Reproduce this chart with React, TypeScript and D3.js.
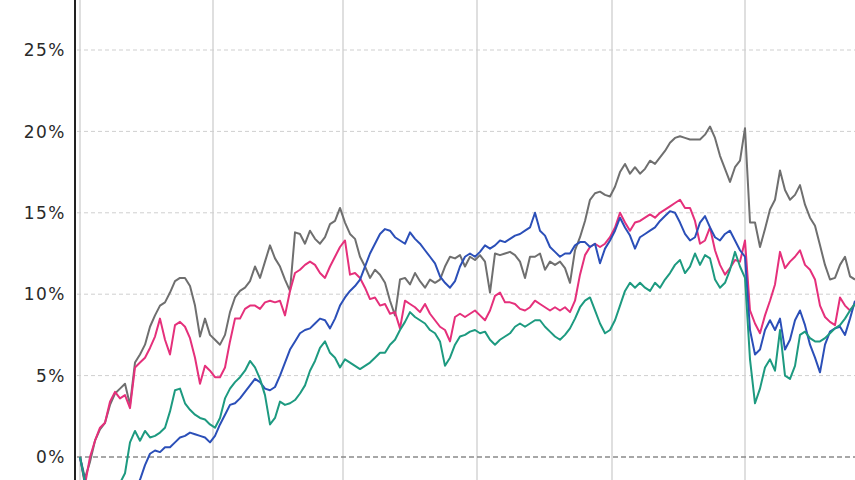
import React from "react";
import * as d3 from "d3";

const yTicks = [0, 5, 10, 15, 20, 25];
const yTickLabels = ["0%", "5%", "10%", "15%", "20%", "25%"];
const xGridIdx = [0, 26.6, 52.6, 79.4, 106.4, 133];

const grayS = [
  0.0, -1.3, -0.3, 1.0, 1.7, 2.1, 3.2, 3.9, 4.2, 4.5,
  3.2, 5.8, 6.3, 6.9, 8.0, 8.7, 9.3, 9.5, 10.1, 10.8,
  11.0, 11.0, 10.5, 9.3, 7.4, 8.5, 7.5, 7.2, 6.9, 7.5,
  8.9, 9.8, 10.2, 10.4, 10.8, 11.7, 11.0, 12.0, 13.0, 12.2,
  11.7, 10.9, 10.2, 13.8, 13.7, 13.1, 13.9, 13.4, 13.1, 13.5,
  14.3, 14.5, 15.3, 14.4, 13.7, 13.4, 12.3, 11.7, 11.0, 11.5,
  11.2, 10.7, 9.6, 8.7, 10.9, 11.0, 10.6, 11.3, 10.8, 10.4,
  10.9, 10.7, 10.9, 11.7, 12.3, 12.2, 12.4, 11.7, 12.3, 12.1,
  12.4, 12.0, 10.1, 12.5, 12.4, 12.5, 12.6, 12.4, 12.0, 11.0,
  12.3, 12.3, 12.5, 11.5, 12.0, 11.8, 12.0, 11.6, 10.7, 12.7,
  13.5, 14.5, 15.8, 16.2, 16.3, 16.1, 16.0, 16.6, 17.5, 18.0,
  17.4, 17.8, 17.4, 17.7, 18.2, 18.0, 18.4, 18.8, 19.3, 19.6,
  19.7, 19.6, 19.5, 19.5, 19.5, 19.8, 20.3, 19.6, 18.5, 17.7,
  16.9, 17.8, 18.2, 20.2, 14.4, 14.4, 12.9, 14.0, 15.2, 15.8,
  17.6, 16.4, 15.8, 16.1, 16.7, 15.5, 14.7, 14.2, 13.0, 11.8,
  10.9, 11.0, 11.8, 12.3, 11.1, 10.9,
];

const pinkS = [
  0.0, -1.7, 0.0, 1.0, 1.8, 2.1, 3.4, 4.0, 3.6, 3.8,
  3.0, 5.5, 5.8, 6.1, 6.7, 7.4, 8.5, 7.2, 6.3, 8.1,
  8.3, 8.0, 7.3, 6.1, 4.5, 5.6, 5.3, 4.9, 4.9, 5.5,
  7.1, 8.5, 8.5, 9.1, 9.3, 9.3, 9.1, 9.5, 9.6, 9.5,
  9.6, 8.7, 10.2, 11.3, 11.5, 11.8, 12.0, 11.8, 11.3, 11.0,
  11.7, 12.3, 12.9, 13.3, 11.2, 11.3, 11.0, 10.4, 9.7, 9.8,
  9.3, 9.4, 8.8, 8.9, 7.9, 9.6, 9.4, 9.2, 8.9, 9.4,
  8.8, 8.4, 8.0, 7.8, 7.1, 8.6, 8.8, 8.6, 8.8, 9.0,
  8.7, 8.4, 9.0, 9.9, 10.1, 9.5, 9.5, 9.4, 9.1, 9.0,
  9.2, 9.6, 9.4, 9.2, 9.0, 9.2, 9.0, 9.2, 8.9, 9.6,
  11.2, 12.4, 12.9, 13.1, 12.9, 13.1, 13.5, 14.1, 15.0, 14.4,
  13.9, 14.4, 14.5, 14.7, 14.9, 14.7, 15.0, 15.2, 15.4, 15.6,
  15.8, 15.3, 15.3, 14.5, 13.1, 13.3, 14.1, 12.7, 11.8, 11.2,
  11.6, 12.1, 12.0, 13.3, 9.0, 8.2, 7.6, 8.7, 9.6, 10.6,
  12.6, 11.6, 12.0, 12.3, 12.7, 11.8, 11.5, 10.9, 9.3, 8.6,
  8.3, 8.1, 9.8, 9.3, 9.0, 9.4,
];

const blueS = [
  0.0, -1.5, -2.0, -2.4, -2.6, -2.8, -3.0, -2.7, -2.9, -2.5,
  -2.6, -2.0, -1.4, -0.5, 0.2, 0.4, 0.3, 0.6, 0.6, 0.9,
  1.2, 1.3, 1.5, 1.4, 1.3, 1.2, 0.9, 1.3, 2.0, 2.6,
  3.2, 3.3, 3.6, 4.0, 4.4, 4.8, 4.6, 4.2, 4.1, 4.3,
  5.0, 5.8, 6.6, 7.1, 7.6, 7.8, 7.9, 8.2, 8.5, 8.4,
  7.9, 8.5, 9.3, 9.8, 10.2, 10.5, 10.9, 11.7, 12.5, 13.1,
  13.7, 14.0, 13.9, 13.5, 13.3, 13.1, 13.8, 13.4, 13.1, 12.7,
  12.3, 11.9, 11.1, 10.7, 10.4, 10.8, 11.7, 12.3, 12.5, 12.3,
  12.6, 13.0, 12.8, 13.0, 13.3, 13.2, 13.4, 13.6, 13.7, 13.9,
  14.1, 15.0, 13.9, 13.6, 12.9, 12.6, 12.3, 12.5, 12.5, 13.0,
  13.2, 13.2, 12.9, 13.1, 11.9, 12.8, 13.3, 13.9, 14.7, 14.1,
  13.6, 12.8, 13.5, 13.7, 13.9, 14.1, 14.5, 14.8, 15.1, 15.0,
  14.4, 13.7, 13.3, 13.5, 14.4, 14.8, 14.1, 13.5, 13.3, 13.7,
  13.9, 13.3, 12.7, 12.3, 7.8, 6.3, 6.6, 7.8, 8.4, 7.8,
  8.5, 6.6, 7.2, 8.4, 9.0, 8.1, 6.9, 6.1, 5.2, 6.9,
  7.7, 7.9, 8.0, 7.5, 8.5, 9.6,
];

const tealS = [
  0.0, -1.6, -2.2, -2.6, -2.8, -3.0, -2.7, -2.2, -1.6, -1.0,
  0.9, 1.6, 1.0, 1.6, 1.2, 1.3, 1.5, 1.8, 2.8, 4.1,
  4.2, 3.3, 2.9, 2.6, 2.4, 2.3, 2.0, 1.8, 2.4, 3.6,
  4.2, 4.6, 4.9, 5.3, 5.9, 5.5, 4.8, 3.8, 2.0, 2.4,
  3.4, 3.2, 3.3, 3.5, 3.9, 4.4, 5.3, 5.9, 6.7, 7.1,
  6.4, 6.1, 5.5, 6.0, 5.8, 5.6, 5.4, 5.6, 5.8, 6.1,
  6.4, 6.4, 6.9, 7.2, 7.8, 8.3, 8.9, 8.6, 8.4, 8.2,
  7.8, 7.6, 7.1, 5.6, 6.1, 6.9, 7.4, 7.5, 7.7, 7.8,
  7.6, 7.7, 7.2, 6.9, 7.2, 7.4, 7.6, 8.0, 8.2, 8.0,
  8.2, 8.4, 8.4, 8.0, 7.7, 7.4, 7.2, 7.5, 7.9, 8.5,
  9.2, 9.6, 9.8, 9.0, 8.2, 7.6, 7.8, 8.4, 9.3, 10.2,
  10.7, 10.4, 10.7, 10.4, 10.2, 10.7, 10.4, 10.9, 11.3, 11.8,
  12.1, 11.3, 11.7, 12.5, 11.8, 12.4, 12.2, 10.9, 10.4, 10.7,
  11.5, 12.6, 11.7, 11.0, 6.0, 3.3, 4.2, 5.5, 6.0, 5.3,
  7.8, 5.0, 4.8, 5.6, 7.5, 7.7, 7.3, 7.1, 7.1, 7.3,
  7.6, 7.9, 8.1, 8.5, 9.0, 9.4,
];

const seriesList = [
  { name: "gray", values: grayS, color: "#6f6f6f" },
  { name: "pink", values: pinkS, color: "#e5307b" },
  { name: "blue", values: blueS, color: "#2b4fb8" },
  { name: "teal", values: tealS, color: "#1d9a80" },
];

const W = 855;
const H = 480;

export default function App() {
  const x = d3.scaleLinear().domain([0, 155]).range([80, 855]);
  const y = d3.scaleLinear().domain([0, 25]).range([457, 50]);
  const line = d3
    .line<number>()
    .x((_, i) => x(i))
    .y((d) => y(d));

  return (
    <svg
      width={W}
      height={H}
      style={{ position: "absolute", left: 0, top: 0, background: "#fff" }}
    >
      <rect x={0} y={0} width={W} height={H} fill="#fff" />
      {xGridIdx.map((g, i) => (
        <line
          key={"vg" + i}
          x1={x(g)}
          x2={x(g)}
          y1={0}
          y2={H}
          stroke="#d4d4d4"
          strokeWidth={1.5}
        />
      ))}
      {yTicks.map((t, i) => (
        <line
          key={"hg" + i}
          x1={77}
          x2={W}
          y1={y(t)}
          y2={y(t)}
          stroke={t === 0 ? "#8a8a8a" : "#cfcfcf"}
          strokeWidth={t === 0 ? 1.3 : 1}
          strokeDasharray={t === 0 ? "5,3" : "4,3"}
        />
      ))}
      {seriesList.map((s) => (
        <path
          key={s.name}
          d={line(s.values) || ""}
          fill="none"
          stroke={s.color}
          strokeWidth={2}
          strokeLinejoin="round"
        />
      ))}
      <line x1={75} x2={75} y1={0} y2={H} stroke="#222" strokeWidth={2} />
      {yTicks.map((t, i) => (
        <text
          key={"yl" + i}
          x={66}
          y={y(t)}
          dy="0.36em"
          textAnchor="end"
          fontFamily="DejaVu Sans, sans-serif"
          fontSize={17}
          letterSpacing={1.5}
          fill="#2a2a2a"
        >
          {yTickLabels[i]}
        </text>
      ))}
    </svg>
  );
}
